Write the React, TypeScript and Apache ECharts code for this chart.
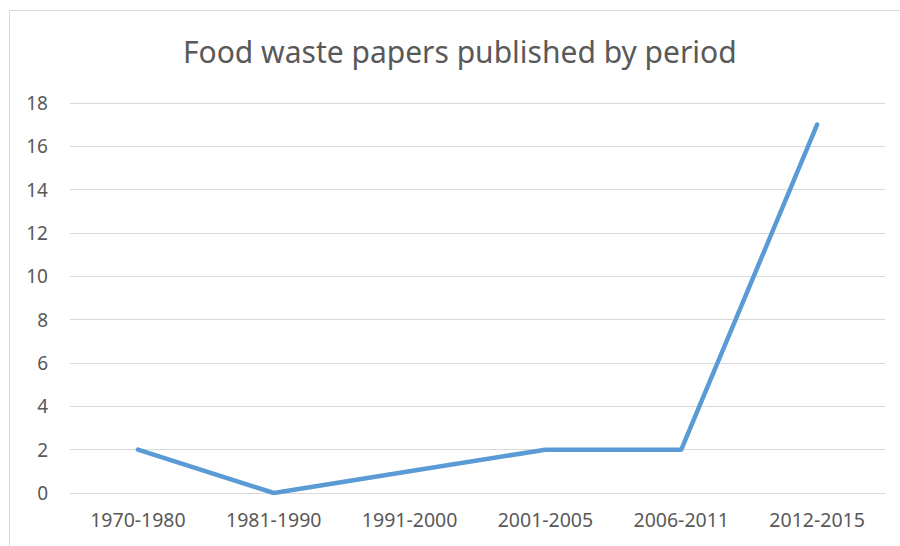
import React, { useEffect, useRef } from "react";
import * as echarts from "echarts";

const TITLE = "Food waste papers published by period";
const categories = ["1970-1980", "1981-1990", "1991-2000", "2001-2005", "2006-2011", "2012-2015"];
const papers = [2, 0, 1, 2, 2, 17];

export default function App() {
  const ref = useRef<HTMLDivElement>(null);
  useEffect(() => {
    if (!ref.current) return;
    const chart = echarts.init(ref.current, undefined, { renderer: "svg" });
    const font = "'Noto Sans', sans-serif";
    chart.setOption({
      animation: false,
      backgroundColor: "#ffffff",
      textStyle: { fontFamily: font },
      title: {
        text: TITLE,
        left: 178,
        top: 31,
        textStyle: { fontFamily: font, fontSize: 30, fontWeight: "normal", color: "#595959" },
      },
      graphic: [
        {
          type: "rect",
          shape: { x: 9.5, y: 10.5, width: 1200, height: 1200 },
          style: { fill: "none", stroke: "#d9d9d9", lineWidth: 1 },
          silent: true,
          z: -1,
        },
      ],
      grid: { left: 70, right: 15, top: 103, bottom: 53, containLabel: false },
      xAxis: {
        type: "category",
        data: categories,
        boundaryGap: true,
        axisLine: { show: true, lineStyle: { color: "#d9d9d9", width: 1 } },
        axisTick: { show: false },
        axisLabel: { color: "#595959", fontSize: 19.5, fontFamily: font, margin: 16 },
        splitLine: { show: false },
      },
      yAxis: {
        type: "value",
        min: 0,
        max: 18,
        interval: 2,
        axisLine: { show: false },
        axisTick: { show: false },
        axisLabel: { color: "#595959", fontSize: 19, fontFamily: font, margin: 22 },
        splitLine: { show: true, lineStyle: { color: "#d9d9d9", width: 1 } },
      },
      series: [
        {
          type: "line",
          data: papers,
          showSymbol: false,
          symbol: "none",
          lineStyle: { color: "#5b9bd5", width: 4.5, cap: "round", join: "round" },
          itemStyle: { color: "#5b9bd5" },
        },
      ],
    });
    return () => chart.dispose();
  }, []);
  return (
    <div
      ref={ref}
      style={{ position: "absolute", left: 0, top: 0, width: 900, height: 546 }}
    />
  );
}
